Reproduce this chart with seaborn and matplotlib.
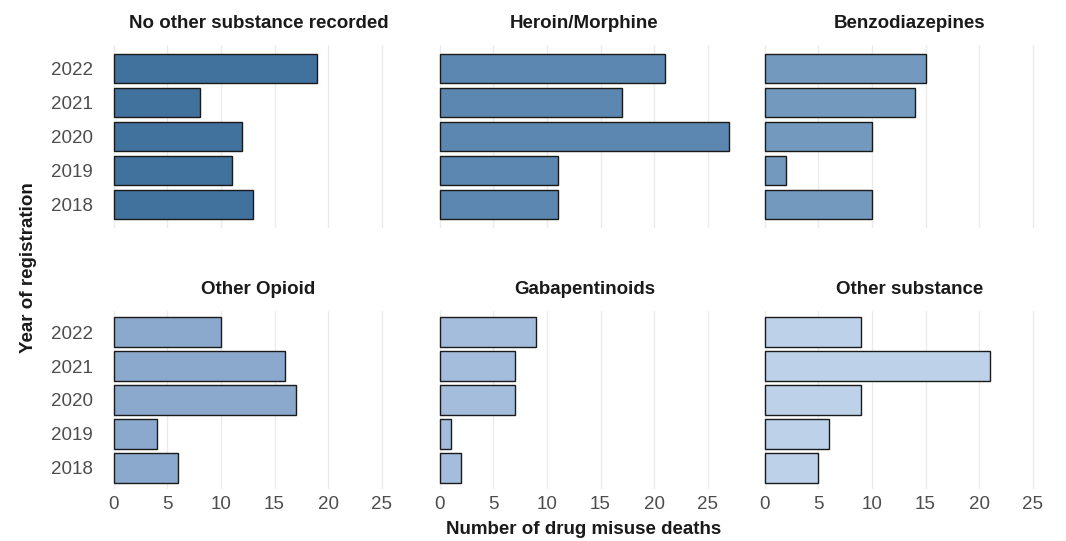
import matplotlib
matplotlib.use("Agg")
import matplotlib.pyplot as plt
import seaborn as sns
import pandas as pd

years = ["2022", "2021", "2020", "2019", "2018"]
substances = ["No other substance recorded", "Heroin/Morphine", "Benzodiazepines",
              "Other Opioid", "Gabapentinoids", "Other substance"]
no_other = [19, 8, 12, 11, 13]
heroin = [21, 17, 27, 11, 11]
benzo = [15, 14, 10, 2, 10]
other_opioid = [10, 16, 17, 4, 6]
gaba = [9, 7, 7, 1, 2]
other_sub = [9, 21, 9, 6, 5]
colors = ["#41729E", "#5B87B0", "#7399BF", "#8BA9CC", "#A4BDDC", "#BDD1E9"]
xticks = [0, 5, 10, 15, 20, 25]

series = [no_other, heroin, benzo, other_opioid, gaba, other_sub]
rows = []
for s, vals in zip(substances, series):
    for y, v in zip(years, vals):
        rows.append({"substance": s, "year": y, "deaths": v})
df = pd.DataFrame(rows)

sns.set_theme(style="white")
plt.rcParams["font.family"] = ["Liberation Sans", "DejaVu Sans"]

W, H = 1066, 541
fig = plt.figure(figsize=(W / 100, H / 100), dpi=100)

lefts = [99.5, 425.5, 750.5]
pw = 318
tops = [45, 311]
ph = [183, 178]
FS = 13.5

for i, s in enumerate(substances):
    r, c = divmod(i, 3)
    ax = fig.add_axes([lefts[c] / W, 1 - (tops[r] + ph[r]) / H, pw / W, ph[r] / H])
    sub = df[df["substance"] == s]
    sns.barplot(data=sub, x="deaths", y="year", order=years, orient="h",
                color=colors[i], saturation=1, width=0.88,
                edgecolor="#1a1a1a", linewidth=1.0, ax=ax, zorder=3)
    ax.set_xlim(-1.35, 28.35)
    if r == 0:
        ax.set_ylim(4.69, -0.69)
    else:
        ax.set_ylim(4.62, -0.62)
    ax.set_xticks(xticks)
    ax.grid(axis="x", color="#EBEBEB", linewidth=1.0, zorder=0)
    ax.grid(axis="y", visible=False)
    for sp in ax.spines.values():
        sp.set_visible(False)
    ax.tick_params(length=0, labelsize=FS, colors="#4D4D4D")
    ax.tick_params(axis="x", pad=5)
    ax.tick_params(axis="y", pad=5)
    ax.set_xlabel("")
    ax.set_ylabel("")
    if r == 0:
        ax.set_xticklabels([])
    if c != 0:
        ax.set_yticklabels([])
    ax.set_title(s, fontsize=FS, fontweight="bold", color="#1a1a1a", pad=12)

fig.text(584 / W, 1 - 530 / H, "Number of drug misuse deaths", ha="center", va="center",
         fontsize=FS, fontweight="bold", color="#1a1a1a")
fig.text(29 / W, 1 - 268 / H, "Year of registration", ha="center", va="center",
         rotation=90, fontsize=FS, fontweight="bold", color="#1a1a1a")

fig.savefig("out.png", dpi=100, facecolor="white")
